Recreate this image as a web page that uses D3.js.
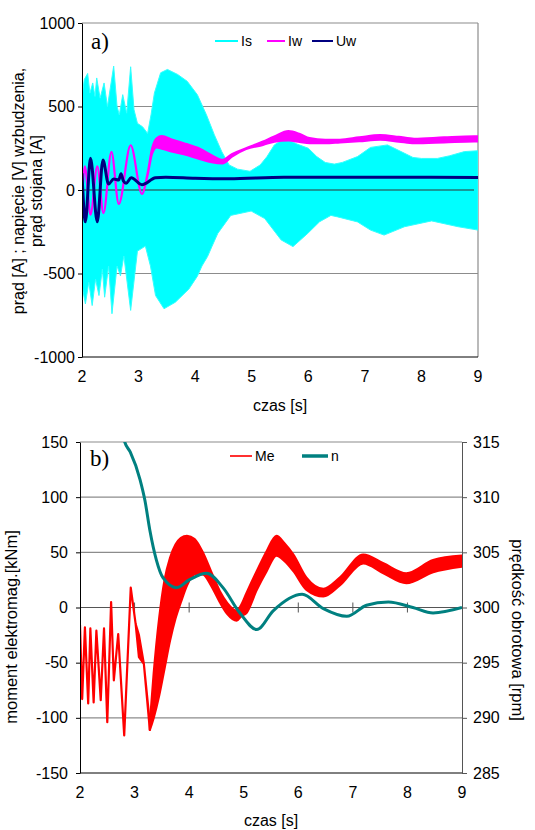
<!DOCTYPE html>
<html>
<head>
<meta charset="utf-8">
<title>Is Iw Uw / Me n</title>
<style>
body { margin: 0; background-color: #ffffff; }
svg text { font-family: "Liberation Sans", Arial, sans-serif; fill: #000; }
</style>
</head>
<body>
<script src="https://cdn.jsdelivr.net/npm/d3@7"></script>
<script>

// ---------- data, chart a) ----------
var xTicks = [2, 3, 4, 5, 6, 7, 8, 9];
var yTicksA = [-1000, -500, 0, 500, 1000];

// stator current Is - upper / lower envelope of the 50 Hz band
var isHiT = [2.00,2.04,2.10,2.14,2.19,2.23,2.26,2.32,2.39,2.45,2.56,2.62,2.66,2.72,2.79,2.86,2.92,2.98,3.07,3.16,3.22,3.28,3.39,3.51,3.69,3.86,4.04,4.20,4.34,4.47,4.60,4.75,4.97,5.15,5.27,5.40,5.55,5.65,5.80,6.00,6.15,6.30,6.46,6.60,6.87,7.10,7.40,7.64,7.85,8.00,8.28,8.50,8.76,9.00];
var isHi  = [560,661,698,580,641,560,671,550,641,500,742,500,450,571,460,738,480,399,379,339,450,581,702,722,692,651,570,450,330,230,150,125,112,150,200,270,302,300,275,250,200,165,155,165,200,255,270,230,195,189,189,205,230,235];
var isLoT = [2.00,2.06,2.12,2.18,2.24,2.30,2.36,2.40,2.47,2.53,2.62,2.68,2.74,2.86,2.98,3.12,3.21,3.30,3.45,3.65,3.89,4.04,4.12,4.22,4.30,4.40,4.63,4.99,5.23,5.52,5.73,5.99,6.20,6.40,6.52,6.87,7.10,7.34,7.70,8.18,8.65,9.00];
var isLo  = [-573,-682,-553,-692,-534,-632,-474,-642,-455,-741,-455,-514,-395,-721,-366,-336,-455,-632,-711,-672,-593,-516,-455,-398,-336,-260,-152,-126,-171,-299,-339,-260,-190,-152,-161,-191,-240,-270,-220,-185,-220,-240];

// field current Iw (band from ~3.2 s)
var iwT  = [2.00,2.05,2.15,2.27,2.38,2.52,2.65,2.86,3.06,3.16,3.24,3.32,3.41,3.60,3.80,4.09,4.29,4.49,4.65,4.90,5.20,5.40,5.65,5.85,6.02,6.30,6.56,6.90,7.27,7.60,7.87,8.40,8.93,9.00];
var iwHi = [-60,141,-148,141,-138,228,-83,268,-24,100,250,310,323,300,280,245,208,180,215,250,290,320,352,335,311,300,301,315,329,318,307,315,321,321];
var iwLo = [-60,141,-148,141,-138,228,-83,268,-24,90,220,255,248,230,215,185,167,160,200,245,270,290,297,288,280,280,285,292,301,290,280,285,291,291];

// field voltage Uw
var uwT = [2.00,2.06,2.15,2.27,2.37,2.47,2.56,2.65,2.69,2.73,2.78,2.87,3.06,3.30,3.48,4.00,4.60,5.57,6.50,7.50,9.00];
var uwV = [100,-190,190,-190,180,36,66,60,97,55,40,73,32,73,77,70,67,77,76,76,75];

// ---------- data, chart b) ----------
var yTicksB = [-150, -100, -50, 0, 50, 100, 150];
var yTicksN = [285, 290, 295, 300, 305, 310, 315];

// electromagnetic torque Me [kNm] (band from ~3.3 s)
var meT  = [2.00,2.04,2.09,2.15,2.19,2.25,2.30,2.38,2.44,2.50,2.57,2.62,2.70,2.81,2.93,3.02,3.08,3.17,3.28,3.35,3.45,3.55,3.65,3.75,3.85,3.96,4.10,4.25,4.40,4.56,4.70,4.87,4.95,5.05,5.24,5.42,5.60,5.75,5.91,6.15,6.46,6.76,7.19,7.56,7.98,8.47,9.00];
var meHi = [-16,-83,-18,-87,-19,-86,-21,-84,-19,-104,5,-66,-24,-116,18,-15,-25,-51,-105,-60,-10,25,45,57,63,65,62,50,33,15,4,-3,2,13,33,51,65,58,48,27,17,27,48,40,31,43,47];
var meLo = [-16,-83,-18,-87,-19,-86,-21,-84,-19,-104,5,-66,-24,-116,18,-15,-45,-51,-111,-100,-80,-55,-30,-10,5,20,30,30,20,5,-6,-12,-8,-5,16,33,47,42,33,16,10,20,40,31,22,32,37];
var meSplit = 18; // index of 3.28 s: zig-zag before, smooth band after

// rotational speed n [rpm]
var nT = [2.70,2.82,2.92,3.10,3.19,3.28,3.40,3.52,3.77,4.00,4.32,4.62,4.93,5.24,5.54,6.07,6.46,6.89,7.25,7.65,8.10,8.47,9.00];
var nV = [318,315,314.1,311.6,309.7,307,304.3,302.7,301.8,302.5,303.1,301.8,299.5,298.0,299.7,301.2,299.9,299.2,300.2,300.5,300.0,299.5,300.0];

var w = 535, h = 830;
var gridCol = "#8c8c8c";
var fmt = function(d) { return String(d); };

var svg = d3.select("body").append("svg")
            .attr("width", w)
            .attr("height", h);

function pairs(ts, vs) {
  return ts.map(function(t, i) { return [t, vs[i]]; });
}

// ================= chart a) =================
var xa = d3.scaleLinear().domain([2, 9]).range([82, 478]);
var ya = d3.scaleLinear().domain([-1000, 1000]).range([357, 23]);

svg.append("clipPath").attr("id", "clipA").append("rect")
   .attr("x", xa(2)).attr("y", ya(1000))
   .attr("width", xa(9) - xa(2)).attr("height", ya(-1000) - ya(1000));

// grid + frame
svg.selectAll("line.gridA")
   .data([-500, 500, 1000])
   .enter().append("line")
   .attr("x1", xa(2)).attr("x2", xa(9))
   .attr("y1", function(d) { return ya(d); })
   .attr("y2", function(d) { return ya(d); })
   .attr("stroke", gridCol).attr("stroke-width", 1.2);
svg.append("line")
   .attr("x1", xa(9)).attr("x2", xa(9)).attr("y1", ya(1000)).attr("y2", ya(-1000))
   .attr("stroke", gridCol).attr("stroke-width", 1.2);

var gA = svg.append("g").attr("clip-path", "url(#clipA)");

// Is band
var isPoly = pairs(isHiT, isHi).concat(pairs(isLoT, isLo).reverse());
var lineA = d3.line().x(function(d) { return xa(d[0]); }).y(function(d) { return ya(d[1]); });
gA.append("path")
  .attr("d", lineA(isPoly) + "Z")
  .attr("fill", "#00ffff")
  .attr("stroke", "#33ffff")
  .attr("stroke-width", 1);

// zero line
gA.append("line")
  .attr("x1", xa(2)).attr("x2", xa(8.93))
  .attr("y1", ya(0)).attr("y2", ya(0))
  .attr("stroke", "#333").attr("stroke-width", 1.2);

// Iw
var iwArea = d3.area()
    .x(function(d, i) { return xa(iwT[i]); })
    .y0(function(d, i) { return ya(iwLo[i]); })
    .y1(function(d, i) { return ya(iwHi[i]); })
    .curve(d3.curveMonotoneX);
gA.append("path")
  .attr("d", iwArea(iwT))
  .attr("fill", "#ff00ff")
  .attr("stroke", "#ff00ff")
  .attr("stroke-width", 2.2);

// Uw
gA.append("path")
  .attr("d", d3.line().curve(d3.curveMonotoneX)
               .x(function(d) { return xa(d[0]); })
               .y(function(d) { return ya(d[1]); })(pairs(uwT, uwV)))
  .attr("fill", "none")
  .attr("stroke", "#000080")
  .attr("stroke-width", 3);

// axes
var axA = svg.append("g").attr("transform", "translate(" + xa(2) + ",0)")
   .call(d3.axisLeft(ya).tickValues(yTicksA).tickFormat(fmt)
           .tickSize(4).tickSizeOuter(0).tickPadding(3));
axA.selectAll("text").attr("font-size", "16px");
axA.select(".domain").attr("stroke", "#000");

svg.append("line")
   .attr("x1", xa(2)).attr("x2", xa(9)).attr("y1", ya(-1000)).attr("y2", ya(-1000))
   .attr("stroke", "#000").attr("stroke-width", 1);

svg.selectAll("text.xa")
   .data(xTicks)
   .enter().append("text")
   .attr("x", function(d) { return xa(d); })
   .attr("y", 382)
   .attr("text-anchor", "middle")
   .attr("font-size", "16px")
   .text(function(d) { return d; });

svg.append("text").attr("x", 280).attr("y", 411)
   .attr("text-anchor", "middle").attr("font-size", "16px").text("czas [s]");

svg.append("text").attr("transform", "translate(23.5,191) rotate(-90)")
   .attr("text-anchor", "middle").attr("font-size", "16px")
   .text("prąd [A] ; napięcie [V] wzbudzenia,");
svg.append("text").attr("transform", "translate(41.5,191) rotate(-90)")
   .attr("text-anchor", "middle").attr("font-size", "16px")
   .text("prąd stojana [A]");

svg.append("text").attr("x", 91).attr("y", 49)
   .style("font-family", "'Liberation Serif', 'Times New Roman', serif")
   .attr("font-size", "23px").text("a)");

// legend a)
var legA = [
  {name: "Is", col: "#00ffff", x1: 215, x2: 238, sw: 2},
  {name: "Iw", col: "#ff00ff", x1: 267, x2: 285, sw: 2},
  {name: "Uw", col: "#000080", x1: 312, x2: 333, sw: 2}
];
legA.forEach(function(d) {
  svg.append("line").attr("x1", d.x1).attr("x2", d.x2).attr("y1", 41).attr("y2", 41)
     .attr("stroke", d.col).attr("stroke-width", d.sw);
  svg.append("text").attr("x", d.x2 + 3).attr("y", 46).attr("font-size", "14px").text(d.name);
});

// ================= chart b) =================
var xb = d3.scaleLinear().domain([2, 9]).range([80, 462]);
var yb = d3.scaleLinear().domain([-150, 150]).range([773, 442]);
var yn = d3.scaleLinear().domain([285, 315]).range([773, 442]);

svg.append("clipPath").attr("id", "clipB").append("rect")
   .attr("x", xb(2)).attr("y", yb(150))
   .attr("width", xb(9) - xb(2)).attr("height", yb(-150) - yb(150));

svg.selectAll("line.gridB")
   .data([-100, -50, 50, 100, 150])
   .enter().append("line")
   .attr("x1", xb(2)).attr("x2", xb(9))
   .attr("y1", function(d) { return yb(d); })
   .attr("y2", function(d) { return yb(d); })
   .attr("stroke", gridCol).attr("stroke-width", 1.2);

// zero axis with cross ticks
svg.append("line")
   .attr("x1", xb(2)).attr("x2", xb(9)).attr("y1", yb(0)).attr("y2", yb(0))
   .attr("stroke", "#555").attr("stroke-width", 1.2);
svg.selectAll("line.xtb")
   .data(xTicks.slice(1, -1))
   .enter().append("line")
   .attr("x1", function(d) { return xb(d); })
   .attr("x2", function(d) { return xb(d); })
   .attr("y1", yb(0) - 5).attr("y2", yb(0) + 5)
   .attr("stroke", "#555").attr("stroke-width", 1);

var gB = svg.append("g").attr("clip-path", "url(#clipB)");

function meArea(curve) {
  return d3.area()
    .x(function(d) { return xb(meT[d]); })
    .y0(function(d) { return yb(meLo[d]); })
    .y1(function(d) { return yb(meHi[d]); })
    .curve(curve);
}
var meIdx = d3.range(meT.length);
[[meIdx.slice(0, meSplit + 1), d3.curveLinear],
 [meIdx.slice(meSplit), d3.curveMonotoneX]].forEach(function(p) {
  gB.append("path")
    .attr("d", meArea(p[1])(p[0]))
    .attr("fill", "#ff0000")
    .attr("stroke", "#ff0000")
    .attr("stroke-width", 2.2)
    .attr("stroke-linejoin", "round");
});

gB.append("path")
  .attr("d", d3.line().curve(d3.curveMonotoneX)
               .x(function(d) { return xb(d[0]); })
               .y(function(d) { return yn(d[1]); })(pairs(nT, nV)))
  .attr("fill", "none")
  .attr("stroke", "#008080")
  .attr("stroke-width", 3);

// axes b)
var axB = svg.append("g").attr("transform", "translate(" + xb(2) + ",0)")
   .call(d3.axisLeft(yb).tickValues(yTicksB).tickFormat(fmt)
           .tickSize(4).tickSizeOuter(0).tickPadding(8));
axB.selectAll("text").attr("font-size", "16px");

var axN = svg.append("g").attr("transform", "translate(" + xb(9) + ",0)")
   .call(d3.axisRight(yn).tickValues(yTicksN).tickFormat(fmt)
           .tickSize(5).tickSizeOuter(0).tickPadding(6));
axN.selectAll("text").attr("font-size", "16px");
axN.select(".domain").attr("stroke", "#555");
axN.selectAll(".tick line").attr("stroke", "#555");

svg.append("line")
   .attr("x1", xb(2)).attr("x2", xb(9)).attr("y1", yb(-150)).attr("y2", yb(-150))
   .attr("stroke", "#000").attr("stroke-width", 1);

svg.selectAll("text.xb")
   .data(xTicks)
   .enter().append("text")
   .attr("x", function(d) { return xb(d); })
   .attr("y", 798)
   .attr("text-anchor", "middle")
   .attr("font-size", "16px")
   .text(function(d) { return d; });

svg.append("text").attr("x", 271).attr("y", 826)
   .attr("text-anchor", "middle").attr("font-size", "16px").text("czas [s]");

svg.append("text").attr("transform", "translate(16.5,627) rotate(-90)")
   .attr("text-anchor", "middle").attr("font-size", "16.5px")
   .text("moment elektromag.[kNm]");
svg.append("text").attr("transform", "translate(511.5,630) rotate(90)")
   .attr("text-anchor", "middle").attr("font-size", "16.5px")
   .text("prędkość obrotowa [rpm]");

svg.append("text").attr("x", 90).attr("y", 466)
   .style("font-family", "'Liberation Serif', 'Times New Roman', serif")
   .attr("font-size", "23px").text("b)");

// legend b)
var legB = [
  {name: "Me", col: "#ff3030", x1: 230, x2: 252, sw: 2},
  {name: "n",  col: "#008080", x1: 302, x2: 328, sw: 3.5}
];
legB.forEach(function(d) {
  svg.append("line").attr("x1", d.x1).attr("x2", d.x2).attr("y1", 456).attr("y2", 456)
     .attr("stroke", d.col).attr("stroke-width", d.sw);
  svg.append("text").attr("x", d.x2 + 3).attr("y", 461).attr("font-size", "14px").text(d.name);
});

</script>
</body>
</html>
